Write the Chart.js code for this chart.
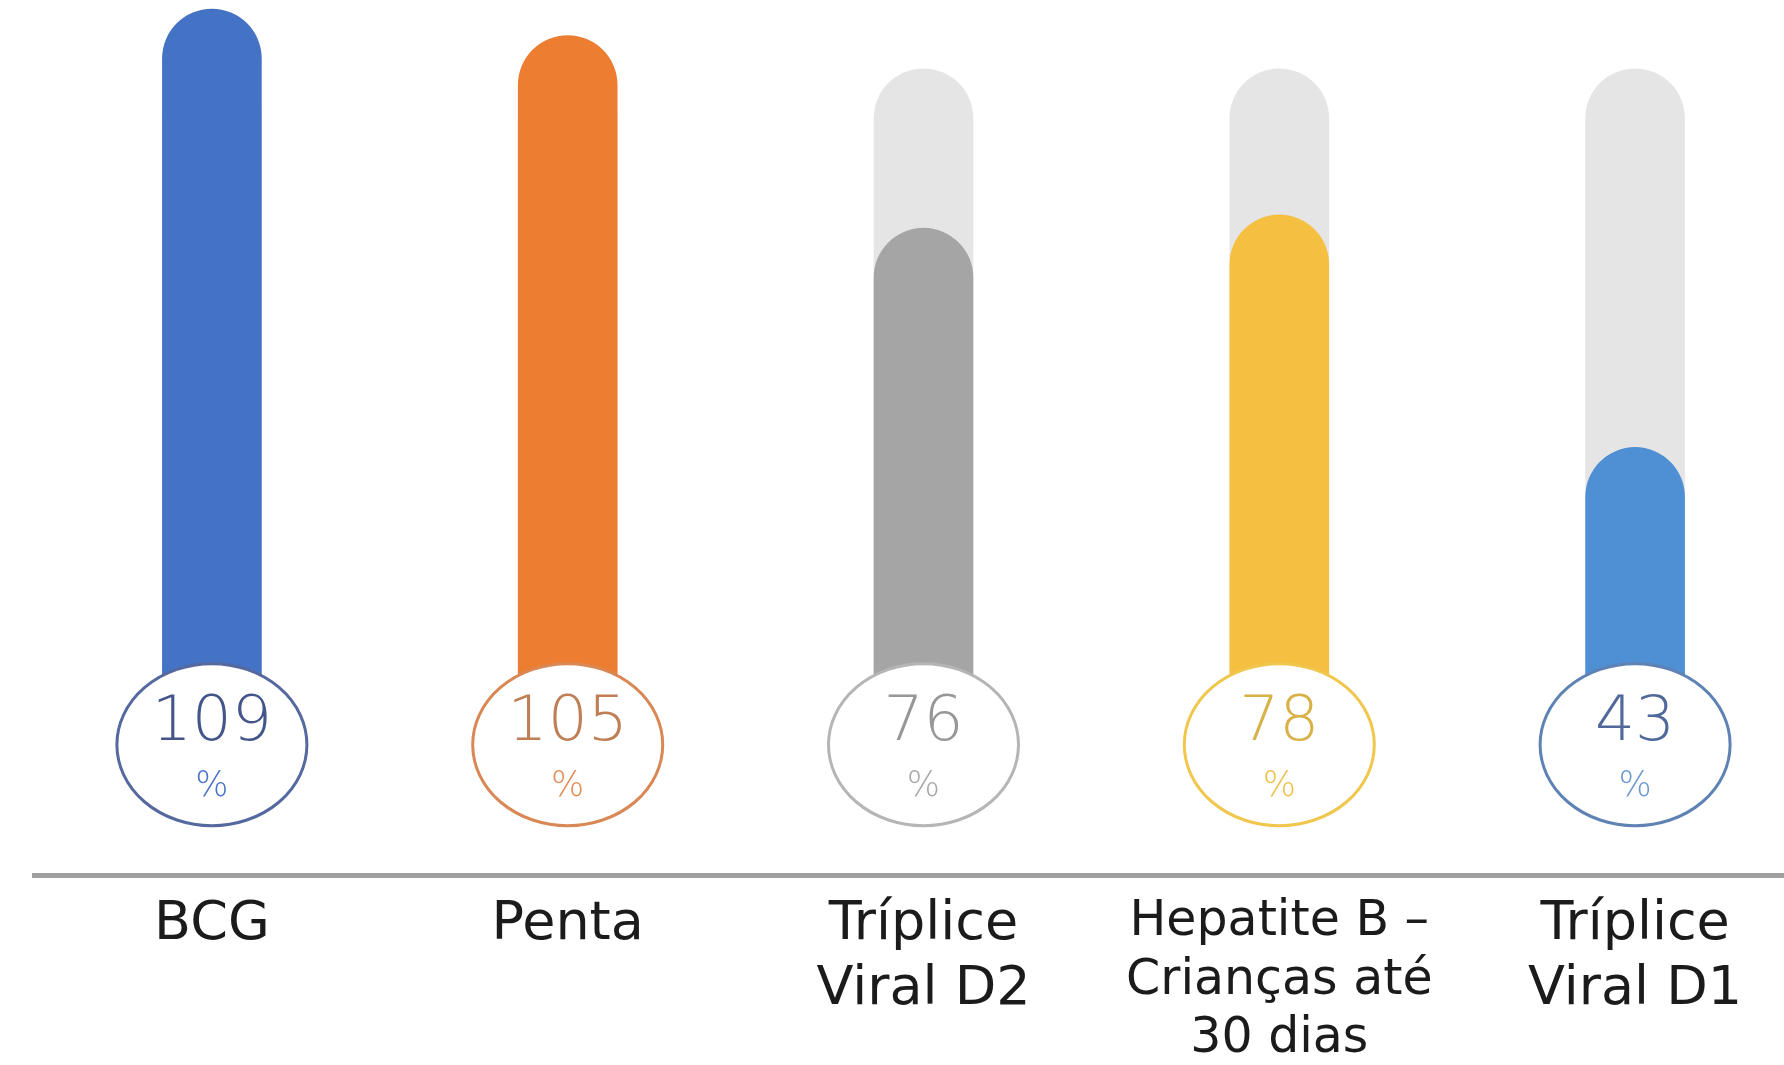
<!DOCTYPE html>
<html>
<head>
<meta charset="utf-8">
<script src="https://cdn.jsdelivr.net/npm/chart.js@4.4.0/dist/chart.umd.min.js"></script>
<style>
  html, body { margin: 0; padding: 0; background: #fff; overflow: hidden; }
  #wrap { width: 1813px; height: 1065px; position: relative; }
</style>
</head>
<body>
<div id="wrap"><canvas id="chart"></canvas></div>
<script>
// dados de cobertura vacinal (%)
const labels = [
  ['BCG'],
  ['Penta'],
  ['Tríplice', 'Viral D2'],
  ['Hepatite B –', 'Crianças até', '30 dias'],
  ['Tríplice', 'Viral D1']
];
const coverage = [109, 105, 76, 78, 43];
const target = [100, 100, 100, 100, 100];

// cores
const barColors = ['#4472c4', '#ed7d31', '#a5a5a5', '#f5bf42', '#4f8fd3'];
const ringColors = ['#55699f', '#d98855', '#b5b5b5', '#f0c64c', '#5f82b5'];
const numberColors = ['#43558a', '#bf7e55', '#979797', '#d8b148', '#50699a'];
const percentColors = ['#4a72c8', '#e38d55', '#a8a8a8', '#efc04a', '#6a98d0'];

// circulo com o valor por cima da base da barra
const badgePlugin = {
  id: 'badges',
  afterDatasetsDraw(chart, args, opts) {
    const ctx = chart.ctx;
    const meta = chart.getDatasetMeta(0);
    const cy = chart.scales.y.getPixelForValue(opts.level);
    meta.data.forEach((bar, i) => {
      ctx.save();
      ctx.beginPath();
      ctx.ellipse(bar.x, cy, opts.rx, opts.ry, 0, 0, Math.PI * 2);
      ctx.fillStyle = '#fff';
      ctx.fill();
      ctx.lineWidth = 3;
      ctx.strokeStyle = ringColors[i];
      ctx.stroke();
      ctx.textAlign = 'center';
      ctx.textBaseline = 'middle';
      ctx.fillStyle = numberColors[i];
      ctx.font = '200 63px "DejaVu Sans", sans-serif';
      ctx.fillText(String(coverage[i]), bar.x, cy - 21);
      ctx.fillStyle = percentColors[i];
      ctx.font = '200 35px "DejaVu Sans", sans-serif';
      ctx.fillText('%', bar.x, cy + 42);
      ctx.restore();
    });
  }
};

new Chart(document.getElementById('chart'), {
  type: 'bar',
  data: {
    labels: labels,
    datasets: [
      {
        data: coverage,
        backgroundColor: barColors,
        borderRadius: 50,
        grouped: false,
        barPercentage: 0.28,
        categoryPercentage: 1
      },
      {
        data: target,
        backgroundColor: '#e5e5e5',
        borderRadius: 50,
        grouped: false,
        barPercentage: 0.28,
        categoryPercentage: 1
      }
    ]
  },
  options: {
    responsive: true,
    maintainAspectRatio: false,
    animation: false,
    layout: { padding: { left: 34, right: 0, top: 2, bottom: -21 } },
    plugins: {
      legend: { display: false },
      tooltip: { enabled: false },
      badges: { level: -1.8, rx: 95, ry: 81 }
    },
    scales: {
      y: { display: false, min: -21.5, max: 110 },
      x: {
        grid: { display: false, drawTicks: false },
        border: { display: true, color: '#a0a0a0', width: 5 },
        ticks: {
          padding: 17,
          color: '#1b1b1b',
          maxRotation: 0,
          autoSkip: false,
          font: (c) => ({
            family: '"DejaVu Sans", sans-serif',
            size: labels[c.index] && labels[c.index].length > 2 ? 49 : 54
          })
        }
      }
    }
  },
  plugins: [badgePlugin]
});
</script>
</body>
</html>
